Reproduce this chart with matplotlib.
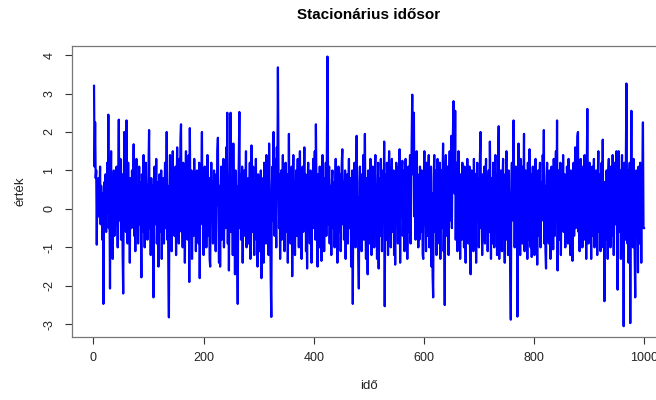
import matplotlib
matplotlib.use("Agg")
import matplotlib.pyplot as plt

# values, 20 per row (index 1..1000)
values = [
    3.2, 1.1, 2.25, 0.8, 1.0, -0.93, 0.7, 0.3, 0.8, -0.2, 0.5, 1.1, -0.4, 0.6, 0.2, -0.8, 0.4, -2.47, 0.1, 0.7,
    -0.3, 0.9, -0.6, 0.2, 1.2, -0.1, 2.45, -0.5, 0.4, -2.07, 0.6, 1.5, -0.2, 0.8, -1.3, 0.3, 1.0, -0.7, 0.2, 0.9,
    -0.4, 1.1, 0.0, -1.0, 0.6, 2.32, -0.3, 0.5, 1.3, -0.8, 0.2, 0.9, -1.2, -2.2, 0.4, 2.0, 0.1, 1.4, -0.6, 2.3,
    0.7, -0.9, 1.2, -0.2, 0.5, -1.4, 0.8, 0.3, -0.5, 1.0, -0.1, 0.4, 1.68, -0.7, 0.2, -1.1, 0.6, 1.3, -0.3, 0.5,
    -0.9, 0.1, 1.1, -0.4, 0.7, -0.2, -1.78, 0.9, 0.3, -0.6, 1.4, 0.0, -1.0, 0.5, 1.2, -0.3, 0.6, -0.8, 0.2, 1.0,
    2.05, -0.5, 0.4, -1.2, 0.8, 0.1, -0.7, 0.6, -2.3, 0.3, 1.1, -0.4, 0.2, 1.3, -0.9, -0.1, 0.7, -1.5, 0.4, 0.9,
    -0.6, 0.2, 1.0, -1.3, 0.5, -0.2, 0.8, -0.9, 0.3, 1.2, -0.5, 0.1, 2.0, -0.8, 0.6, -1.6, -2.82, 0.4, 1.4, -0.3,
    0.7, -1.1, 0.2, 1.5, -0.4, 0.9, -0.7, 0.3, 1.1, -1.2, 0.5, 1.6, -0.2, 0.8, -0.9, 1.3, 0.0, 1.8, 2.2, -0.6,
    0.4, -1.0, 1.2, -0.3, 0.7, -1.4, 0.5, 1.5, -0.1, 0.9, -0.8, 0.3, 1.4, -1.9, 2.1, 0.2, -0.5, 1.0, -1.3, 0.6,
    0.1, -0.7, 1.3, -0.2, 0.8, -1.1, 0.4, 1.0, -0.6, 0.3, -0.9, 1.2, -1.8, 0.5, -0.3, 0.9, 2.0, -0.4, 0.7, -1.2,
    0.2, 1.1, -0.5, 0.6, -1.0, 0.3, 1.4, -0.7, 0.0, 0.8, -1.3, -1.5, 0.5, 1.2, -0.2, 0.7, -0.9, 0.4, 1.0, -0.6,
    0.3, -1.1, 0.9, 0.1, 1.5, 1.85, -0.4, -1.4, 0.6, -1.5, 0.2, 1.1, -0.8, 0.5, -0.3, 1.3, -1.0, 0.4, 0.9, -0.5,
    1.6, -0.2, 2.5, -0.9, 0.7, -1.6, 0.3, 1.2, 2.5, -0.6, 0.1, 0.8, -1.2, 1.7, -0.3, 0.5, -1.7, 1.0, -0.1, 0.6,
    -1.1, -2.47, 0.4, 1.3, 2.52, -0.5, 0.9, -0.8, 0.2, 1.1, -1.4, 0.6, -0.2, 1.0, -0.7, 0.3, 1.5, -1.0, 0.4, -0.4,
    0.8, -0.9, 0.2, 1.2, -1.3, 0.5, 1.65, -0.6, 0.1, 1.1, -0.3, -1.2, 0.7, -0.1, 1.3, -0.8, 0.4, -1.5, 0.9, 0.0,
    0.6, -1.1, 0.3, 1.0, -1.8, 0.2, -0.5, 0.8, -1.4, 1.2, -0.2, 0.5, -0.9, 1.4, 0.1, -0.6, 0.9, -1.2, 1.7, 0.3,
    -0.4, -1.9, -2.81, 0.6, 1.1, -0.3, 2.0, 0.8, -0.7, 1.3, 0.2, -1.0, 1.6, 0.5, 3.68, 1.2, -0.5, 0.9, -1.3, 0.4,
    1.0, -0.8, 0.3, 1.4, -0.2, 0.7, -1.1, 0.5, 1.2, -0.6, 0.1, 0.9, -1.4, 0.4, 1.95, -0.3, 0.8, -0.9, 0.2, 1.1,
    -1.75, 0.3, 1.4, -0.5, 0.7, -1.2, 0.2, 1.0, -0.7, 0.5, 1.3, -0.1, -1.0, 0.6, 1.5, -0.4, 0.8, -1.3, 0.3, 1.1,
    -0.6, 0.4, 1.6, -0.2, 0.9, -1.1, 0.0, -1.55, 0.7, 1.2, -0.3, 0.5, -0.9, 1.0, 0.2, -1.4, 0.8, -0.1, 1.3, -0.5,
    0.4, 1.5, -0.8, 2.2, 0.6, -0.3, -1.5, 0.9, 0.1, -1.0, 1.1, -0.4, 0.7, -1.35, 0.3, 1.4, -0.6, 0.5, -1.1, 0.8,
    0.0, 1.2, -0.7, 1.8, 3.96, 0.9, -0.4, 1.1, -0.9, 0.6, 0.2, -1.2, 0.7, 1.0, -0.5, 0.3, 0.7, -1.0, 0.5, 1.3,
    -0.3, 0.8, -1.4, 0.4, 1.1, -0.6, 0.2, 0.9, -1.1, 0.5, 1.2, 1.55, -0.4, 0.7, -0.8, 0.3, 1.0, -1.3, 0.6, -0.2,
    0.9, -0.9, 0.4, 1.3, -0.5, 0.1, 0.8, -1.5, -0.2, 1.0, -2.47, 0.5, -0.7, 1.2, 0.2, -1.0, 0.6, 1.9, -0.4, 0.3,
    -1.2, -2.07, 0.7, 1.1, -0.6, 0.4, -1.1, 0.9, 0.0, 1.4, -0.8, 0.5, 1.95, -0.3, -1.3, 0.8, 0.2, -1.7, 1.0, -0.5,
    0.6, -0.9, 1.3, 0.1, -1.2, 0.7, 1.1, -0.4, 0.3, -1.0, 0.9, 1.4, -0.6, 0.5, -1.3, 0.2, 1.2, -1.55, 0.4, 0.8,
    -0.7, 1.3, 0.0, -1.1, 0.6, 1.0, -0.3, 1.75, -2.53, 0.5, 0.9, -0.8, 1.2, 0.3, -1.2, 0.7, 1.5, -0.5, 0.2, -1.0,
    0.8, 1.3, -0.6, 0.4, 1.0, -1.2, 0.1, -1.45, 0.7, 1.2, -0.4, 0.5, -0.9, 1.1, 0.3, 1.55, -1.4, 0.6, -0.2, 0.9,
    1.25, -0.7, 0.2, 1.0, -1.1, 0.5, 1.3, -0.3, 0.8, -1.3, 0.4, 1.1, -0.6, 0.7, 1.4, -0.9, 0.3, 1.8, 2.97, 0.9,
    1.6, 2.5, -0.2, 1.2, -0.8, 0.6, 1.5, -0.5, 0.9, -1.0, 0.3, -0.8, 1.1, 0.4, -0.6, 1.0, 0.2, -1.2, -1.3, 0.7,
    1.5, -0.4, 0.6, -1.1, 1.2, 0.1, -0.7, 0.9, 1.4, -1.0, 0.5, -0.3, 1.1, -1.5, 0.4, -1.75, -2.3, 0.8, 1.4, -0.6,
    0.2, 1.0, -1.2, 0.6, 1.3, -0.4, 0.7, -0.9, 1.2, -1.3, 0.3, 1.0, -0.5, 0.8, 1.7, -1.1, -0.2, -2.5, 0.9, 1.4,
    0.4, -0.7, 1.1, 0.0, -1.2, 0.6, 1.5, -0.3, 0.9, 1.9, -0.5, 1.3, 2.1, 2.8, 1.0, 0.4, 2.55, -0.8, 1.2, 0.1,
    -1.1, 0.7, 1.5, -0.4, 0.5, -1.3, 0.9, 0.2, -0.8, 1.2, -0.2, 0.6, -1.0, 1.1, 0.3, -1.4, 0.8, -0.5, 1.3, 0.0,
    -0.9, 0.5, 1.1, -1.2, -1.7, 0.4, 1.0, -0.3, 0.7, -1.1, 1.3, 0.2, -0.6, 0.9, -1.4, 0.5, 1.2, -0.2, 0.8, -1.0,
    0.3, 1.4, 2.0, -0.5, 0.6, -1.2, 0.9, 0.1, -0.8, 1.1, -0.9, 0.4, 1.3, -0.3, 0.7, -1.1, 0.2, 1.0, -0.6, 1.75,
    0.5, -1.3, 0.8, 0.0, -0.9, 1.2, 0.3, -1.0, 0.6, 1.4, -0.4, 0.9, -1.2, 0.2, 1.1, 2.15, -1.3, 0.5, -0.7, 1.0,
    0.1, -1.1, 0.8, 1.3, -0.5, 0.4, -1.4, 0.9, 0.2, 1.5, -0.8, 0.6, -1.2, 1.0, 0.3, -0.6, -1.6, -2.88, 0.7, 1.2,
    -0.3, 0.5, 2.3, 0.8, -1.0, 0.4, 1.1, -0.7, 0.2, -2.8, 0.9, 1.7, -0.4, 0.6, -1.2, 1.3, 0.0, 0.8, -0.9, 1.1,
    0.5, 1.95, -1.1, 0.3, 1.0, -0.6, 0.7, -1.3, 1.2, 0.2, -0.8, 1.55, 0.4, -1.0, 0.9, -1.25, 0.6, 1.1, -0.4, 0.3,
    -1.2, 0.8, 1.3, -0.5, 0.2, -1.45, 0.9, 1.0, -0.7, 0.4, 1.2, -1.0, 0.1, 0.7, -0.3, 1.4, 0.5, 2.05, -0.9, 0.6,
    -1.1, -1.55, 0.8, 1.2, -0.2, 0.5, -0.9, 1.0, 0.3, -1.3, 0.7, 1.1, -0.5, 0.2, -1.05, 1.3, 0.4, -0.7, 0.9, 1.5,
    -0.3, 2.3, -1.6, 0.6, 1.0, -0.8, 0.2, 1.2, -1.2, 0.5, 0.8, -0.4, 1.4, -0.6, 0.1, 0.9, -1.0, 0.6, -0.6, 1.1,
    0.3, -0.9, 1.3, 0.0, 0.7, -1.2, 1.0, -0.3, 0.5, -1.35, 0.9, 1.2, -0.7, 0.4, 1.6, -0.5, 0.8, 1.1, 1.9, 2.0,
    -0.6, 0.3, -1.1, 0.9, 1.3, -0.4, 0.6, -1.0, 1.1, 0.2, -0.8, 1.4, -0.2, 0.7, -1.3, 1.0, 2.6, 0.4, -0.9, 0.5,
    1.2, -0.5, 0.3, -1.3, 0.9, 1.1, -0.7, 0.2, 1.3, -1.0, 0.6, -0.3, 1.0, 0.4, -1.2, 0.8, 1.5, -0.6, 0.1, 0.9,
    -1.1, 0.5, 1.2, -0.4, 1.8, -1.0, 0.3, -2.4, 0.7, 0.6, -0.8, 1.0, 0.2, -1.3, 0.9, 1.3, -0.5, 0.4, -1.0, 1.1,
    0.6, -0.7, 1.4, 0.0, -1.2, 0.8, 1.2, -0.4, 0.5, 1.5, -1.1, -2.1, 0.9, 1.5, -0.6, 0.3, 1.0, -1.3, 0.7, 1.4,
    -0.5, 0.9, -3.05, 1.2, 0.4, -0.8, 1.1, 3.26, 0.6, -0.9, 1.0, -1.4, 0.5, 1.2, -2.97, 0.3, 2.55, -0.7, 0.8, -1.0,
    1.3, 0.2, -1.2, -2.3, 0.8, 1.0, -0.6, 0.4, -1.65, 1.1, 0.6, -0.9, 1.2, 0.3, -1.4, 0.7, 1.0, 2.25, -0.5, -0.5,
]
assert len(values) == 1000, len(values)
time = list(range(1, len(values) + 1))

x_ticks = [0, 200, 400, 600, 800, 1000]
y_ticks = [-3, -2, -1, 0, 1, 2, 3, 4]

plt.rcParams['font.family'] = ['Liberation Sans', 'DejaVu Sans']

fig = plt.figure(figsize=(6.56, 4.0), dpi=100)
# the reference is cropped on the right, so the box runs past the figure edge
ax = fig.add_axes([0.1098, 0.1575, 0.9055, 0.728])

ax.plot(time, values, color='#0000ff', linewidth=1.6)
ax.margins(x=0.04, y=0.04)

ax.set_xticks(x_ticks)
ax.set_yticks(y_ticks)
ax.set_yticklabels([str(v) for v in y_ticks], rotation=90, va='center')
ax.tick_params(axis='both', direction='out', length=5, width=0.8,
               color='#333333', labelsize=9, labelcolor='#222222')
ax.tick_params(axis='x', pad=6)
ax.tick_params(axis='y', pad=7)
for sp in ax.spines.values():
    sp.set_color('#777777')
    sp.set_linewidth(0.9)

ax.set_title('Stacionárius idősor', fontsize=11, fontweight='bold', pad=19)
ax.set_xlabel('idő', fontsize=9.5, labelpad=11, color='#222222')
ax.set_ylabel('érték', fontsize=9.5, labelpad=12, color='#222222')

fig.savefig('out.png', dpi=100)
